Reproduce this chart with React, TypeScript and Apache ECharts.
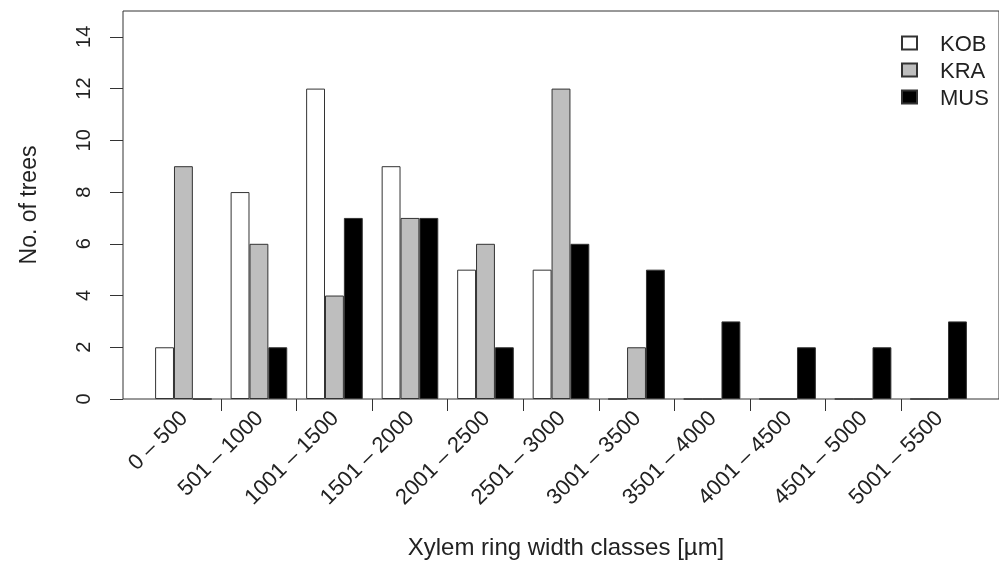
import React, { useEffect, useRef } from "react";
import * as echarts from "echarts";

const categories = [
  "0 – 500", "501 – 1000", "1001 – 1500", "1501 – 2000", "2001 – 2500", "2501 – 3000",
  "3001 – 3500", "3501 – 4000", "4001 – 4500", "4501 – 5000", "5001 – 5500",
];
const kob = [2, 8, 12, 9, 5, 5, 0, 0, 0, 0, 0];
const kra = [9, 6, 4, 7, 6, 12, 2, 0, 0, 0, 0];
const mus = [0, 2, 7, 7, 2, 6, 5, 3, 2, 2, 3];
const yTicks = [0, 2, 4, 6, 8, 10, 12, 14];
const xTickValues = [0.5, 1.5, 2.5, 3.5, 4.5, 5.5, 6.5, 7.5, 8.5, 9.5];
const xLabelValues = [0, 1, 2, 3, 4, 5, 6, 7, 8, 9, 10];

const FONT = "'Liberation Sans', Arial, Helvetica, sans-serif";
const TXT = "#222";

export default function App() {
  const ref = useRef<HTMLDivElement>(null);
  useEffect(() => {
    document.body.style.margin = "0";
    const chart = echarts.init(ref.current!, null, { renderer: "svg" });
    const mk = (name: string, vals: number[], color: string) => ({
      name,
      type: "bar",
      barWidth: "25%",
      barGap: "0%",
      data: vals.map((v, i) => [i, v]),
      itemStyle: { color, borderColor: "#333", borderWidth: 1 },
    });
    chart.setOption({
      animation: false,
      textStyle: { fontFamily: FONT },
      grid: {
        left: 123,
        right: -4,
        top: 11,
        bottom: 169,
        show: true,
        borderColor: "#333",
        borderWidth: 1,
        backgroundColor: "transparent",
      },
      legend: {
        orient: "vertical",
        left: 896,
        top: 27,
        itemWidth: 15,
        itemHeight: 13,
        itemGap: 5,
        icon: "rect",
        textStyle: { fontSize: 22, color: TXT, fontFamily: FONT, padding: [0, 0, 0, 18] },
        data: ["KOB", "KRA", "MUS"],
      },
      xAxis: {
        type: "value",
        min: -0.8,
        max: 10.8,
        name: "Xylem ring width classes [µm]",
        nameLocation: "middle",
        nameGap: 135,
        nameTextStyle: { fontSize: 24, color: TXT, fontFamily: FONT, padding: [0, 0, 0, 10] },
        axisLine: { show: false, onZero: false },
        splitLine: { show: false },
        axisTick: { show: true, customValues: xTickValues, length: 12, lineStyle: { color: "#333" } },
        axisLabel: {
          customValues: xLabelValues,
          formatter: (v: number) => categories[Math.round(v)] ?? "",
          rotate: 45,
          fontSize: 22,
          color: TXT,
          margin: 15,
          fontFamily: FONT,
          padding: [0, 0, 0, 0],
        },
      },
      yAxis: {
        type: "value",
        min: 0,
        max: 15,
        name: "No. of trees",
        nameLocation: "middle",
        nameGap: 84,
        nameTextStyle: { fontSize: 23, color: TXT, fontFamily: FONT },
        axisLine: { show: false, onZero: false },
        splitLine: { show: false },
        axisTick: { show: true, customValues: yTicks, length: 13, lineStyle: { color: "#333" } },
        axisLabel: {
          customValues: yTicks,
          rotate: 90,
          fontSize: 20,
          color: TXT,
          margin: 30,
          fontFamily: FONT,
        },
      },
      series: [mk("KOB", kob, "#ffffff"), mk("KRA", kra, "#bebebe"), mk("MUS", mus, "#000000")],
    });
    return () => chart.dispose();
  }, []);
  return <div ref={ref} style={{ width: 999, height: 568, position: "fixed", left: 0, top: 0 }} />;
}
